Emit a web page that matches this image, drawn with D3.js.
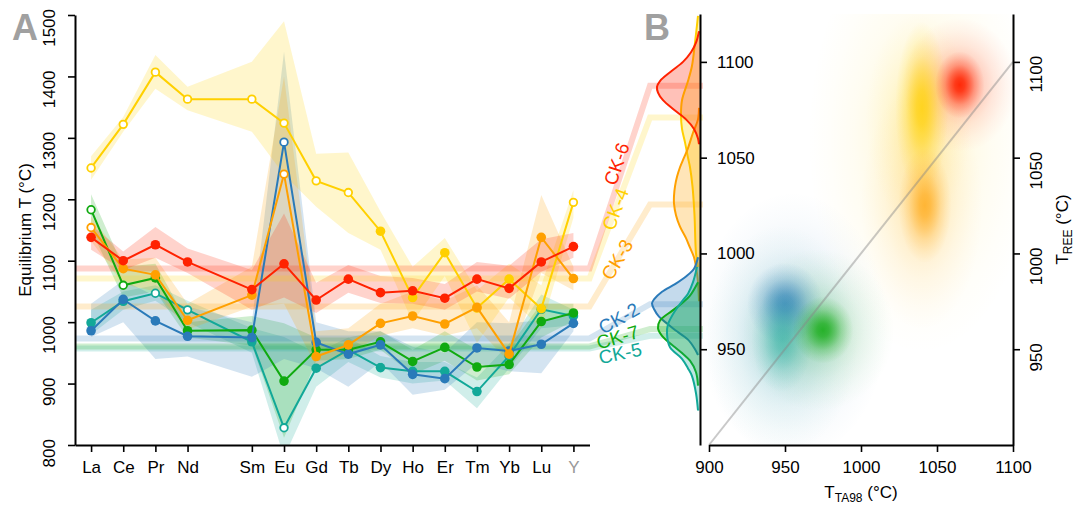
<!DOCTYPE html>
<html>
<head>
<meta charset="utf-8">
<script src="https://cdn.jsdelivr.net/npm/d3@7"></script>
<style>
  body { margin: 0; background: #fff; }
  svg { display: block; font-family: "Liberation Sans", Arial, sans-serif; }
</style>
</head>
<body>
<svg id="chart" width="1082" height="506"></svg>
<script>
// ---- data ----
const elements = ["La", "Ce", "Pr", "Nd", "Sm", "Eu", "Gd", "Tb", "Dy", "Ho", "Er", "Tm", "Yb", "Lu", "Y"];
const elementPos = [0, 1, 2, 3, 5, 6, 7, 8, 9, 10, 11, 12, 13, 14, 15];
const yTicksA = [800, 900, 1000, 1100, 1200, 1300, 1400, 1500];
const xTicksB = [900, 950, 1000, 1050, 1100];
const yTicksB = [950, 1000, 1050, 1100];

const seriesKeys = ["CK-5", "CK-7", "CK-2", "CK-4", "CK-3", "CK-6"];

const tempCK2 = [986, 1037, 1002, 977, 975, 1293, 967, 948, 963, 915, 908, 958, 953, 964, 998];
const loCK2 = [976, 1000, 940, 944, 911, 940, 925, 895, 935, 882, 890, 933, 920, 917, 985];
const hiCK2 = [1030, 1068, 1042, 1025, 1000, 1440, 1000, 985, 985, 960, 950, 1000, 998, 1003, 1012];
const openCK2 = [0, 0, 0, 0, 0, 1, 0, 0, 0, 0, 0, 0, 0, 0, 0];

const tempCK3 = [1154, 1087, 1077, 1003, 1044, 1241, 944, 963, 998, 1010, 997, 1024, 948, 1138, 1071];
const loCK3 = [1132, 1062, 1050, 988, 1025, 1030, 928, 948, 978, 990, 978, 990, 935, 1080, 1052];
const hiCK3 = [1172, 1102, 1105, 1030, 1090, 1400, 985, 990, 1030, 1050, 1035, 1060, 1000, 1207, 1090];
const openCK3 = [1, 0, 0, 0, 0, 1, 0, 0, 0, 0, 0, 0, 0, 0, 0];

const tempCK4 = [1251, 1322, 1407, 1363, 1363, 1324, 1230, 1211, 1148, 1040, 1113, 1023, 1070, 1022, 1195];
const loCK4 = [1232, 1310, 1380, 1345, 1310, 1240, 1188, 1145, 1118, 1000, 1075, 966, 1040, 990, 1170];
const hiCK4 = [1270, 1334, 1435, 1383, 1424, 1490, 1274, 1276, 1180, 1090, 1137, 1052, 1095, 1060, 1215];
const openCK4 = [1, 1, 1, 1, 1, 1, 1, 1, 0, 0, 0, 0, 0, 0, 1];

const tempCK5 = [999, 1034, 1047, 1020, 968, 828, 925, 955, 926, 920, 920, 887, 945, 1021, 1010];
const loCK5 = [980, 1020, 1035, 1000, 950, 780, 895, 935, 910, 900, 905, 860, 925, 990, 995];
const hiCK5 = [1020, 1050, 1060, 1035, 990, 976, 950, 975, 945, 935, 935, 910, 965, 1045, 1020];
const openCK5 = [0, 0, 1, 1, 0, 1, 0, 0, 0, 0, 0, 0, 0, 0, 0];

const tempCK6 = [1138, 1100, 1126, 1098, 1053, 1095, 1036, 1070, 1048, 1051, 1039, 1070, 1055, 1098, 1123];
const loCK6 = [1118, 1085, 1105, 1080, 1020, 1040, 1015, 1048, 1031, 1030, 1020, 1050, 1038, 1082, 1105];
const hiCK6 = [1158, 1115, 1155, 1120, 1085, 1177, 1064, 1093, 1075, 1072, 1062, 1098, 1092, 1135, 1145];
const openCK6 = [0, 0, 0, 0, 0, 0, 0, 0, 0, 0, 0, 0, 0, 0, 0];

const tempCK7 = [1183, 1060, 1072, 986, 987, 904, 955, 955, 968, 936, 959, 927, 931, 1001, 1015];
const loCK7 = [1150, 1040, 1050, 975, 962, 812, 937, 940, 955, 915, 937, 905, 915, 975, 1002];
const hiCK7 = [1208, 1090, 1095, 1000, 1010, 998, 975, 975, 985, 955, 985, 955, 960, 1030, 1030];
const openCK7 = [1, 1, 0, 0, 0, 0, 0, 0, 0, 0, 0, 0, 0, 0, 0];

// mean T(REE) of each sample
const meanREE = { "CK-2": 973.5, "CK-3": 1025.5, "CK-4": 1071, "CK-5": 957, "CK-6": 1087.5, "CK-7": 960.5 };

// marginal density of T(REE) (x1e-3 per degree)
const kdeT_CK2 = [998, 992, 988, 984, 980, 976, 974, 971, 967, 963, 960, 955, 950, 947];
const kdeD_CK2 = [2, 6, 14, 25, 38, 46, 48, 46, 41, 32, 25, 12, 5, 2];
const kdeT_CK3 = [1076, 1070, 1063, 1055, 1050, 1045, 1040, 1035, 1030, 1026, 1020, 1014, 1008, 1003, 998, 993, 985, 975];
const kdeD_CK3 = [1, 2, 7, 12, 16, 20, 23, 25, 26, 26, 24, 20, 14, 10, 6, 4, 2, 1];
const kdeT_CK4 = [1124, 1110, 1098, 1090, 1080, 1072, 1065, 1058, 1050, 1045, 1035, 1020, 1000, 993];
const kdeD_CK4 = [2, 5, 8, 12, 18, 19, 18, 15, 12, 10, 7.5, 5.5, 4, 2];
const kdeT_CK5 = [993, 985, 979, 975, 970, 963, 958, 951, 945, 940, 936, 927, 918];
const kdeD_CK5 = [3, 7, 12, 18, 25, 32, 33, 30, 18, 12, 8, 4, 2];
const kdeT_CK6 = [1116, 1110, 1105, 1100, 1095, 1090, 1087, 1084, 1080, 1075, 1070, 1065, 1060, 1057];
const kdeD_CK6 = [1, 4, 9, 17, 29, 40, 43, 42, 37, 26, 14, 6, 2, 1];
const kdeT_CK7 = [985, 978, 974, 970, 965, 961, 957, 951, 948, 944, 938, 931];
const kdeD_CK7 = [2, 10, 18, 28, 40, 42, 38, 25, 18, 10, 4, 2];

// 2D density clouds: T(TA98) vs T(REE)
const cloudKey = ["CK-4", "CK-4", "CK-3", "CK-6", "CK-2", "CK-5", "CK-7",
  "CK-4", "CK-3", "CK-6", "CK-2", "CK-5", "CK-7"];
const cloudTA = [1040, 1038, 1040, 1065, 955, 948, 972, 1040, 1042, 1065, 950, 948, 975];
const cloudREE = [1060, 1070, 1025, 1088, 962, 955, 960, 1076, 1025, 1088, 974, 955, 960];
const cloudSdTA = [30, 14, 16, 15, 25, 20, 20, 7, 7, 6.5, 10, 8, 8];
const cloudSdREE = [45, 22, 26, 14, 28, 24, 17, 18, 12, 7, 8.5, 11, 7];
const cloudAlpha = [0.16, 0.2, 0.2, 0.32, 0.2, 0.18, 0.22, 0.8, 0.7, 0.95, 0.72, 0.5, 0.85];

// ---- styles ----
const colors = { "CK-2": "#2a7ab9", "CK-3": "#ffa000", "CK-4": "#ffd000", "CK-5": "#12a898", "CK-6": "#ff2200", "CK-7": "#10aa10" };
const labelLayout = { "CK-6": [0.56, 7], "CK-4": [0.43, 0], "CK-3": [0.46, 0], "CK-2": [0.51, 3], "CK-7": [0.47, 1], "CK-5": [0.47, -11] };

const byKey = {
  "CK-2": [tempCK2, loCK2, hiCK2, openCK2, kdeT_CK2, kdeD_CK2],
  "CK-3": [tempCK3, loCK3, hiCK3, openCK3, kdeT_CK3, kdeD_CK3],
  "CK-4": [tempCK4, loCK4, hiCK4, openCK4, kdeT_CK4, kdeD_CK4],
  "CK-5": [tempCK5, loCK5, hiCK5, openCK5, kdeT_CK5, kdeD_CK5],
  "CK-6": [tempCK6, loCK6, hiCK6, openCK6, kdeT_CK6, kdeD_CK6],
  "CK-7": [tempCK7, loCK7, hiCK7, openCK7, kdeT_CK7, kdeD_CK7],
};

const series = seriesKeys.map((key) => {
  const [t, lo, hi, open, kt, kd] = byKey[key];
  return {
    key,
    color: colors[key],
    mean: meanREE[key],
    rows: elements.map((el, i) => ({ el, pos: elementPos[i], t: t[i], lo: lo[i], hi: hi[i], open: open[i] === 1 })),
    kde: kt.map((v, i) => ({ t: v, d: kd[i] })),
  };
});

// ---- scales ----
const svg = d3.select("#chart");
const xA = d3.scaleLinear().domain([-0.5, 15.5]).range([75, 589.5]);
const yA = d3.scaleLinear().domain([800, 1500]).range([445, 15]);
const xB = d3.scaleLinear().domain([900, 1100]).range([709, 1013]);
const yB = d3.scaleLinear().domain([900, 1125]).range([445, 14]);
const xK = d3.scaleLinear().domain([0, 50]).range([700, 650]);

const defs = svg.append("defs");
defs.append("clipPath").attr("id", "clipA").append("rect")
  .attr("x", 75).attr("y", 15).attr("width", 515).attr("height", 430);
defs.append("clipPath").attr("id", "clipB").append("rect")
  .attr("x", 701).attr("y", 14).attr("width", 312).attr("height", 431);

// ---- panel A: bands ----
const bandArea = d3.area()
  .x((d) => xA(d.pos))
  .y0((d) => yA(d.lo))
  .y1((d) => yA(d.hi));

const bandLayer = svg.append("g").attr("clip-path", "url(#clipA)");
series.forEach((s) => {
  bandLayer.append("path")
    .datum(s.rows)
    .attr("d", bandArea)
    .attr("fill", s.color)
    .attr("fill-opacity", 0.2);
});

// ---- panel B: density clouds ----
const cloudLayer = svg.append("g").attr("clip-path", "url(#clipB)");
const falloff = [[0, 1], [0.2, 0.88], [0.4, 0.61], [0.6, 0.32], [0.8, 0.135], [1, 0]];
cloudKey.forEach((key, i) => {
  const id = "cloud" + i;
  const grad = defs.append("radialGradient").attr("id", id);
  falloff.forEach(([o, g]) => {
    grad.append("stop")
      .attr("offset", o)
      .attr("stop-color", colors[key])
      .attr("stop-opacity", cloudAlpha[i] * g);
  });
  cloudLayer.append("ellipse")
    .attr("cx", xB(cloudTA[i]))
    .attr("cy", yB(cloudREE[i]))
    .attr("rx", xB(cloudTA[i] + 2.5 * cloudSdTA[i]) - xB(cloudTA[i]))
    .attr("ry", yB(cloudREE[i]) - yB(cloudREE[i] + 2.5 * cloudSdREE[i]))
    .attr("fill", `url(#${id})`);
});

// 1:1 line
svg.append("line")
  .attr("x1", xB(900)).attr("y1", yB(900))
  .attr("x2", xB(1100)).attr("y2", yB(1100))
  .attr("stroke", "#888")
  .attr("stroke-opacity", 0.45)
  .attr("stroke-width", 2);

// connectors: mean line in A running into the marginal density of B
const connLayer = svg.append("g");
series.forEach((s) => {
  const ya = yA(s.mean), yb = yB(s.mean);
  connLayer.append("path")
    .attr("d", `M${xA.range()[0]},${ya}L${xA.range()[1]},${ya}L650,${yb}L703,${yb}`)
    .attr("fill", "none")
    .attr("stroke", s.color)
    .attr("stroke-opacity", 0.2)
    .attr("stroke-width", 6);
});

// ---- panel A: lines + markers ----
const line = d3.line().x((d) => xA(d.pos)).y((d) => yA(d.t));
series.forEach((s) => {
  const g = svg.append("g");
  g.append("path")
    .datum(s.rows)
    .attr("d", line)
    .attr("fill", "none")
    .attr("stroke", s.color)
    .attr("stroke-width", 2);
  g.selectAll("circle")
    .data(s.rows)
    .join("circle")
    .attr("cx", (d) => xA(d.pos))
    .attr("cy", (d) => yA(d.t))
    .attr("r", (d) => (d.open ? 3.8 : 4.8))
    .attr("fill", (d) => (d.open ? "#fff" : s.color))
    .attr("stroke", s.color)
    .attr("stroke-width", (d) => (d.open ? 1.8 : 0));
});

// ---- marginal densities ----
const kdeOrder = ["CK-4", "CK-3", "CK-6", "CK-2", "CK-7", "CK-5"];
const kdeArea = d3.area()
  .y((d) => yB(d.t))
  .x0(xK(0))
  .x1((d) => xK(d.d))
  .curve(d3.curveCatmullRom);
const kdeLine = d3.line()
  .y((d) => yB(d.t))
  .x((d) => xK(d.d))
  .curve(d3.curveCatmullRom);
kdeOrder.forEach((key) => {
  const s = series.find((d) => d.key === key);
  svg.append("path").datum(s.kde).attr("d", kdeArea)
    .attr("fill", s.color).attr("fill-opacity", 0.28);
  svg.append("path").datum(s.kde).attr("d", kdeLine)
    .attr("fill", "none").attr("stroke", s.color).attr("stroke-width", 2);
});

// ---- sample labels along connectors ----
series.forEach((s) => {
  const x0 = xA.range()[1], y0 = yA(s.mean), x1 = 650, y1 = yB(s.mean);
  const dx = x1 - x0, dy = y1 - y0, len = Math.hypot(dx, dy);
  const [t, n] = labelLayout[s.key];
  const ux = dx / len, uy = dy / len;
  const cx = x0 + t * dx + uy * n;
  const cy = y0 + t * dy - ux * n;
  const ang = Math.atan2(dy, dx) * 180 / Math.PI;
  svg.append("text")
    .attr("transform", `translate(${cx},${cy}) rotate(${ang})`)
    .attr("text-anchor", "middle")
    .attr("dominant-baseline", "central")
    .attr("font-size", 19)
    .attr("fill", s.color)
    .text(s.key);
});

// ---- axes ----
function styleAxis(g) {
  g.select(".domain").attr("stroke-width", 2);
  g.selectAll(".tick line").attr("stroke-width", 1.6);
  g.selectAll("text").attr("font-size", 17).attr("fill", "#000").attr("font-family", null);
}
const fmt = d3.format("d");

// A: y
svg.append("g")
  .attr("transform", `translate(${xA.range()[0]},0)`)
  .call(d3.axisLeft(yA).tickValues(yTicksA).tickSize(7).tickSizeOuter(0).tickFormat(""))
  .call(styleAxis);
yTicksA.forEach((v) => {
  svg.append("text")
    .attr("transform", `translate(55,${yA(v) - 6}) rotate(-90)`)
    .attr("text-anchor", "end")
    .attr("font-size", 17)
    .text(fmt(v));
});
svg.append("text")
  .attr("transform", `translate(31,230) rotate(-90)`)
  .attr("text-anchor", "middle")
  .attr("font-size", 17)
  .text("Equilibrium T (°C)");

// A: x
svg.append("g")
  .attr("transform", "translate(0,445)")
  .call(d3.axisBottom(xA).tickValues(elementPos).tickSize(7).tickSizeOuter(0).tickPadding(9)
    .tickFormat((d) => elements[elementPos.indexOf(d)]))
  .call(styleAxis)
  .selectAll("text")
  .attr("fill", (d) => (elements[elementPos.indexOf(d)] === "Y" ? "#999" : "#000"));

// B: marginal axis (ticks on its right side)
svg.append("g")
  .attr("transform", "translate(700,0)")
  .call(d3.axisRight(yB).tickValues(yTicksB).tickSize(7).tickSizeOuter(0).tickPadding(10).tickFormat(fmt))
  .call(styleAxis);

// B: x
svg.append("g")
  .attr("transform", "translate(0,445)")
  .call(d3.axisBottom(xB).tickValues(xTicksB).tickSize(7).tickSizeOuter(0).tickPadding(9).tickFormat(fmt))
  .call(styleAxis);

const xLab = svg.append("text")
  .attr("x", d3.mean(xB.range()))
  .attr("y", 498)
  .attr("text-anchor", "middle")
  .attr("font-size", 17);
xLab.append("tspan").text("T");
xLab.append("tspan").attr("font-size", 12).attr("dy", 4).text("TA98");
xLab.append("tspan").attr("dy", -4).text(" (°C)");

// B: right y
svg.append("g")
  .attr("transform", `translate(${xB.range()[1]},0)`)
  .call(d3.axisRight(yB).tickValues(yTicksB).tickSize(7).tickSizeOuter(0).tickFormat(""))
  .call(styleAxis);
yTicksB.forEach((v) => {
  svg.append("text")
    .attr("transform", `translate(1042,${yB(v) - 6}) rotate(-90)`)
    .attr("text-anchor", "end")
    .attr("font-size", 17)
    .text(fmt(v));
});
const yLab = svg.append("text")
  .attr("transform", `translate(1068,${d3.mean(yB.range())}) rotate(-90)`)
  .attr("text-anchor", "middle")
  .attr("font-size", 17);
yLab.append("tspan").text("T");
yLab.append("tspan").attr("font-size", 12).attr("dy", 4).text("REE");
yLab.append("tspan").attr("dy", -4).text(" (°C)");

// panel letters
svg.append("text").attr("x", 12).attr("y", 40)
  .attr("font-size", 36).attr("font-weight", "bold").attr("fill", "#a0a0a0").text("A");
svg.append("text").attr("x", 644).attr("y", 40)
  .attr("font-size", 36).attr("font-weight", "bold").attr("fill", "#a0a0a0").text("B");
</script>
</body>
</html>
